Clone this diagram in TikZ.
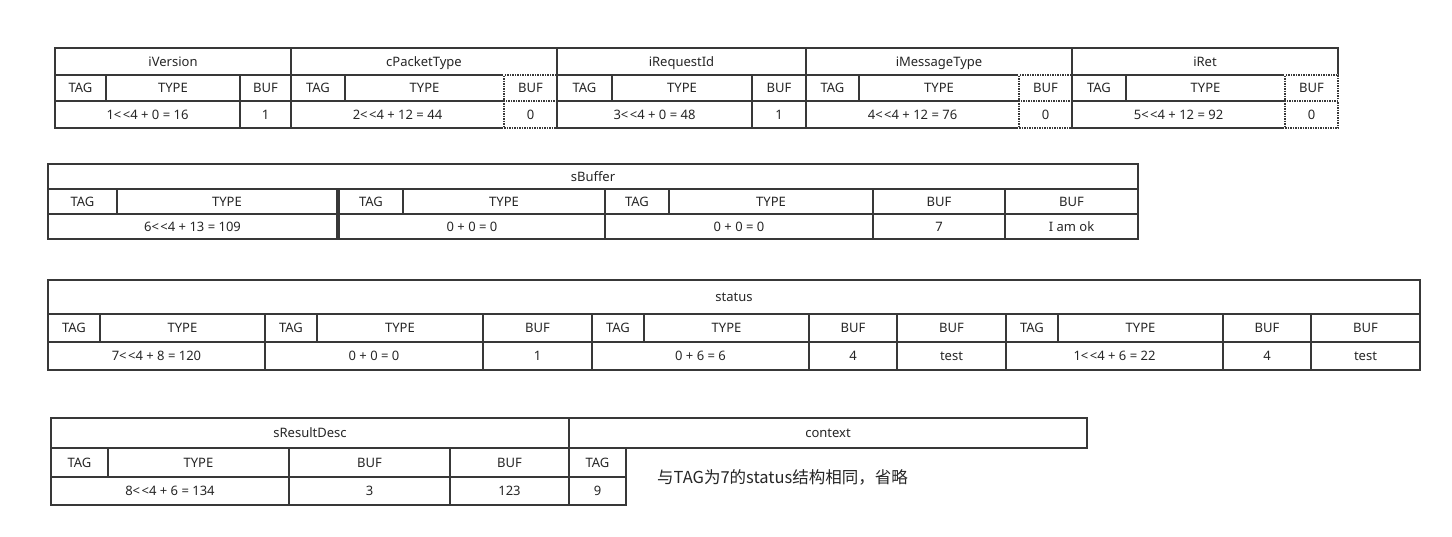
\documentclass[tikz,border=0pt]{standalone}
\usepackage{fontspec}
\setmainfont{Noto Sans}
\newfontfamily\cjkfont{Noto Sans CJK SC}
% one rectangular field: [style]{name}{x1}{y1}{x2}{y2}{text}
\newcommand\fieldcell[7][cellbox]{%
  \node[#1, minimum width={(#5-#3)*1pt}, minimum height={(#6-#4)*1pt}]
    (#2) at ({(#3+#5)/2},{(#4+#6)/2}) {#7};}
% left shift operator, kept as two separate signs
\newcommand\shl{<\kern1.5pt<}
\begin{document}
\begin{tikzpicture}[x=1pt,y=-1pt,
  cellbox/.style={rectangle, draw=black!78, line width=1.5pt, inner sep=0pt,
    outer sep=0pt, text=black!85, font=\fontsize{13}{15}\selectfont,
    text height=10pt, text depth=0.7pt},
  dotbox/.style={cellbox, densely dotted, line width=1.3pt,
    preaction={draw=white, solid, line width=2pt}},
  notetext/.style={anchor=west, inner sep=0pt, text=black!85,
    font=\cjkfont\fontsize{16.5}{18}\selectfont}]
\useasboundingbox[fill=white] (0,0) rectangle (1452,536);

% ---- header fields ----
% iVersion
\fieldcell{v-head}{55}{48}{291}{75}{iVersion}
\fieldcell{v-tag}{55}{75}{106}{101}{TAG}
\fieldcell{v-type}{106}{75}{240}{101}{TYPE}
\fieldcell{v-buf}{240}{75}{291}{101}{BUF}
\fieldcell{v-val}{55}{101}{240}{128}{1\shl4 + 0 = 16}
\fieldcell{v-bufv}{240}{101}{291}{128}{1}
% cPacketType
\fieldcell{cp-head}{291}{48}{557}{75}{cPacketType}
\fieldcell{cp-tag}{291}{75}{345}{101}{TAG}
\fieldcell{cp-type}{345}{75}{504}{101}{TYPE}
\fieldcell{cp-val}{291}{101}{504}{128}{2\shl4 + 12 = 44}
\fieldcell[dotbox]{cp-buf}{504}{75}{557}{101}{BUF}
\fieldcell[dotbox]{cp-bufv}{504}{101}{557}{128}{0}
% iRequestId
\fieldcell{rq-head}{557}{48}{806}{75}{iRequestId}
\fieldcell{rq-tag}{557}{75}{612}{101}{TAG}
\fieldcell{rq-type}{612}{75}{752}{101}{TYPE}
\fieldcell{rq-buf}{752}{75}{806}{101}{BUF}
\fieldcell{rq-val}{557}{101}{752}{128}{3\shl4 + 0 = 48}
\fieldcell{rq-bufv}{752}{101}{806}{128}{1}
% iMessageType
\fieldcell{mt-head}{806}{48}{1072}{75}{iMessageType}
\fieldcell{mt-tag}{806}{75}{859}{101}{TAG}
\fieldcell{mt-type}{859}{75}{1019}{101}{TYPE}
\fieldcell{mt-val}{806}{101}{1019}{128}{4\shl4 + 12 = 76}
\fieldcell[dotbox]{mt-buf}{1019}{75}{1072}{101}{BUF}
\fieldcell[dotbox]{mt-bufv}{1019}{101}{1072}{128}{0}
% iRet
\fieldcell{rt-head}{1072}{48}{1338}{75}{iRet}
\fieldcell{rt-tag}{1072}{75}{1126}{101}{TAG}
\fieldcell{rt-type}{1126}{75}{1285}{101}{TYPE}
\fieldcell{rt-val}{1072}{101}{1285}{128}{5\shl4 + 12 = 92}
\fieldcell[dotbox]{rt-buf}{1285}{75}{1338}{101}{BUF}
\fieldcell[dotbox]{rt-bufv}{1285}{101}{1338}{128}{0}
% shared borders drawn solid again
\draw[black!78, line width=1.5pt] (rq-head.north west) -- (rq-val.south west);
\draw[black!78, line width=1.5pt] (mt-head.south west) -- (mt-val.south west);

% ---- sBuffer ----
\fieldcell{sb-head}{48}{164}{1138}{189}{sBuffer}
\fieldcell{sb-tag1}{48}{189}{117}{214}{TAG}
\fieldcell{sb-type1}{117}{189}{337}{214}{TYPE}
\fieldcell{sb-val1}{48}{214}{337}{239}{6\shl4 + 13 = 109}
\fieldcell{sb-tag2}{339}{189}{403}{214}{TAG}
\fieldcell{sb-type2}{403}{189}{605}{214}{TYPE}
\fieldcell{sb-val2}{339}{214}{605}{239}{0 + 0 = 0}
\fieldcell{sb-tag3}{605}{189}{669}{214}{TAG}
\fieldcell{sb-type3}{669}{189}{873}{214}{TYPE}
\fieldcell{sb-val3}{605}{214}{873}{239}{0 + 0 = 0}
\fieldcell{sb-buf1}{873}{189}{1005}{214}{BUF}
\fieldcell{sb-bufv1}{873}{214}{1005}{239}{7}
\fieldcell{sb-buf2}{1005}{189}{1138}{214}{BUF}
\fieldcell{sb-bufv2}{1005}{214}{1138}{239}{I am ok}

% ---- status ----
\fieldcell{st-head}{48}{280}{1420}{314}{status}
\fieldcell{st-tag1}{48}{314}{100}{342}{TAG}
\fieldcell{st-type1}{100}{314}{265}{342}{TYPE}
\fieldcell{st-val1}{48}{342}{265}{370}{7\shl4 + 8 = 120}
\fieldcell{st-tag2}{265}{314}{317}{342}{TAG}
\fieldcell{st-type2}{317}{314}{483}{342}{TYPE}
\fieldcell{st-val2}{265}{342}{483}{370}{0 + 0 = 0}
\fieldcell{st-buf1}{483}{314}{592}{342}{BUF}
\fieldcell{st-bufv1}{483}{342}{592}{370}{1}
\fieldcell{st-tag3}{592}{314}{644}{342}{TAG}
\fieldcell{st-type3}{644}{314}{809}{342}{TYPE}
\fieldcell{st-val3}{592}{342}{809}{370}{0 + 6 = 6}
\fieldcell{st-buf2}{809}{314}{897}{342}{BUF}
\fieldcell{st-bufv2}{809}{342}{897}{370}{4}
\fieldcell{st-buf3}{897}{314}{1006}{342}{BUF}
\fieldcell{st-bufv3}{897}{342}{1006}{370}{test}
\fieldcell{st-tag4}{1006}{314}{1058}{342}{TAG}
\fieldcell{st-type4}{1058}{314}{1223}{342}{TYPE}
\fieldcell{st-val4}{1006}{342}{1223}{370}{1\shl4 + 6 = 22}
\fieldcell{st-buf4}{1223}{314}{1311}{342}{BUF}
\fieldcell{st-bufv4}{1223}{342}{1311}{370}{4}
\fieldcell{st-buf5}{1311}{314}{1420}{342}{BUF}
\fieldcell{st-bufv5}{1311}{342}{1420}{370}{test}

% ---- sResultDesc / context ----
\fieldcell{rd-head}{51}{418}{569}{448}{sResultDesc}
\fieldcell{rd-tag}{51}{448}{108}{477}{TAG}
\fieldcell{rd-type}{108}{448}{289}{477}{TYPE}
\fieldcell{rd-val}{51}{477}{289}{505}{8\shl4 + 6 = 134}
\fieldcell{rd-buf1}{289}{448}{450}{477}{BUF}
\fieldcell{rd-bufv1}{289}{477}{450}{505}{3}
\fieldcell{rd-buf2}{450}{448}{569}{477}{BUF}
\fieldcell{rd-bufv2}{450}{477}{569}{505}{123}
\fieldcell{cx-head}{569}{418}{1087}{448}{context}
\fieldcell{cx-tag}{569}{448}{626}{477}{TAG}
\fieldcell{cx-val}{569}{477}{626}{505}{9}
\node[notetext] (cx-note) at (657,477) {与TAG为7的status结构相同，省略};
\end{tikzpicture}
\end{document}
